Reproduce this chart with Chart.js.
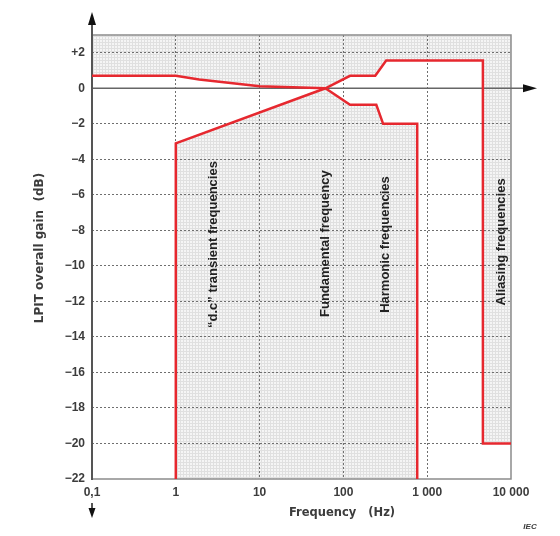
<!DOCTYPE html>
<html>
<head>
<meta charset="utf-8">
<script src="https://cdn.jsdelivr.net/npm/chart.js@4.4.0/dist/chart.umd.min.js"></script>
<style>
  html, body { margin: 0; padding: 0; background: #fff; }
  #wrap { width: 560px; height: 536px; }
</style>
</head>
<body>
<div id="wrap"><canvas id="gainChart" width="560" height="536"></canvas></div>
<script>
'use strict';

// axis ticks
const xTicks = [0.1, 1, 10, 100, 1000, 10000];
const xTickLabels = ['0,1', '1', '10', '100', '1 000', '10 000'];
const yTicks = [-22, -20, -18, -16, -14, -12, -10, -8, -6, -4, -2, 0, 2];
const yTickLabels = ['\u221222', '\u221220', '\u221218', '\u221216', '\u221214', '\u221212',
    '\u221210', '\u22128', '\u22126', '\u22124', '\u22122', '0', '+2'];

// curve starting at 0,1 Hz (upper left, lower right)
const curveAFreq = [0.1, 1, 1.9, 10, 61, 120, 247, 298, 760, 760];
const curveAGain = [0.7, 0.7, 0.5, 0.12, 0, -0.93, -0.93, -2, -2, -22];

// curve starting at 1 Hz (lower left, upper right)
const curveBFreq = [1, 1, 61, 120, 240, 324, 4620, 4620, 10000];
const curveBGain = [-22, -3.1, 0, 0.7, 0.7, 1.56, 1.56, -20, -20];

// hatched (forbidden) areas
const shadeTopFreq = [0.1, 10000, 10000, 4620, 4620, 324, 240, 120, 61, 10, 1.9, 1, 0.1];
const shadeTopGain = [3, 3, -20, -20, 1.56, 1.56, 0.7, 0.7, 0, 0.12, 0.5, 0.7, 0.7];
const shadeLowFreq = [1, 1, 61, 120, 247, 298, 760, 760];
const shadeLowGain = [-22, -3.1, 0, -0.93, -0.93, -2, -2, -22];

// rotated band labels
const bandLabels = ['\u201Cd.c\u201D transient frequencies', 'Fundamental frequency',
    'Harmonic frequencies', 'Aliasing frequencies'];
const bandLabelFreq = [2.79, 61, 315, 7600];
const bandLabelGain = [-8.8, -8.75, -8.8, -8.65];

const RED = '#e6282f';
const TEXT = '#3c3c3c';
const FONT = '"Liberation Sans", Arial, sans-serif';
const WIDE_FONT = '"DejaVu Sans", Verdana, sans-serif';

function toPoints(freqs, gains) {
    return freqs.map(function(f, i) { return { x: f, y: gains[i] }; });
}

function makeHatch() {
    const c = document.createElement('canvas');
    c.width = 3;
    c.height = 3;
    const g = c.getContext('2d');
    g.fillStyle = '#f5f5f5';
    g.fillRect(0, 0, 3, 3);
    g.fillStyle = '#e0e0e0';
    g.fillRect(0, 0, 3, 1);
    g.fillRect(0, 0, 1, 3);
    return c;
}

function fillArea(ctx, xs, ys, freqs, gains) {
    ctx.beginPath();
    freqs.forEach(function(f, i) {
        const px = xs.getPixelForValue(f);
        const py = ys.getPixelForValue(gains[i]);
        if (i === 0) ctx.moveTo(px, py); else ctx.lineTo(px, py);
    });
    ctx.closePath();
    ctx.fill();
}

const decorPlugin = {
    id: 'decor',
    beforeDraw: function(chart) {
        const ctx = chart.ctx;
        const area = chart.chartArea;
        const xs = chart.scales.x;
        const ys = chart.scales.y;
        ctx.save();
        ctx.beginPath();
        ctx.rect(area.left, area.top, area.right - area.left, area.bottom - area.top);
        ctx.clip();
        ctx.fillStyle = ctx.createPattern(makeHatch(), 'repeat');
        fillArea(ctx, xs, ys, shadeTopFreq, shadeTopGain);
        fillArea(ctx, xs, ys, shadeLowFreq, shadeLowGain);
        ctx.restore();
    },
    beforeDatasetsDraw: function(chart) {
        const ctx = chart.ctx;
        const area = chart.chartArea;
        const ys = chart.scales.y;
        const zeroY = ys.getPixelForValue(0);
        ctx.save();

        // frame
        ctx.strokeStyle = '#8c8c8c';
        ctx.lineWidth = 1.5;
        ctx.beginPath();
        ctx.moveTo(area.left, area.top);
        ctx.lineTo(area.right, area.top);
        ctx.lineTo(area.right, area.bottom);
        ctx.lineTo(area.left, area.bottom);
        ctx.stroke();

        // 0 dB axis with arrow
        ctx.strokeStyle = '#666';
        ctx.lineWidth = 1.5;
        ctx.beginPath();
        ctx.moveTo(area.left, zeroY);
        ctx.lineTo(area.right + 13, zeroY);
        ctx.stroke();
        ctx.fillStyle = '#111';
        ctx.beginPath();
        ctx.moveTo(area.right + 26, zeroY);
        ctx.lineTo(area.right + 12, zeroY - 4);
        ctx.lineTo(area.right + 12, zeroY + 4);
        ctx.closePath();
        ctx.fill();

        // gain axis with arrows
        ctx.strokeStyle = '#555';
        ctx.lineWidth = 2;
        ctx.beginPath();
        ctx.moveTo(area.left, 24);
        ctx.lineTo(area.left, area.bottom + 1);
        ctx.moveTo(area.left, 503);
        ctx.lineTo(area.left, 510);
        ctx.stroke();
        ctx.fillStyle = '#111';
        ctx.beginPath();
        ctx.moveTo(area.left, 12);
        ctx.lineTo(area.left - 4, 25);
        ctx.lineTo(area.left + 4, 25);
        ctx.closePath();
        ctx.fill();
        ctx.beginPath();
        ctx.moveTo(area.left, 518);
        ctx.lineTo(area.left - 3.5, 508);
        ctx.lineTo(area.left + 3.5, 508);
        ctx.closePath();
        ctx.fill();
        ctx.restore();
    },
    afterDraw: function(chart) {
        const ctx = chart.ctx;
        const xs = chart.scales.x;
        const ys = chart.scales.y;
        ctx.save();
        ctx.fillStyle = '#222';
        ctx.textAlign = 'center';
        ctx.textBaseline = 'middle';
        ctx.font = 'bold 13px ' + FONT;

        bandLabels.forEach(function(text, i) {
            ctx.save();
            ctx.translate(xs.getPixelForValue(bandLabelFreq[i]), ys.getPixelForValue(bandLabelGain[i]));
            ctx.rotate(-Math.PI / 2);
            ctx.fillText(text, 0, 0);
            ctx.restore();
        });

        ctx.fillStyle = TEXT;
        ctx.font = 'bold 11.5px ' + WIDE_FONT;
        ctx.fillText('Frequency   (Hz)', 342, 513);

        ctx.save();
        ctx.translate(40, 248);
        ctx.rotate(-Math.PI / 2);
        ctx.font = 'bold 12px ' + WIDE_FONT;
        ctx.fillText('LPIT overall gain  (dB)', 0, 0);
        ctx.restore();

        ctx.font = 'italic bold 8px ' + FONT;
        ctx.fillText('IEC', 530, 527);
        ctx.restore();
    }
};

const tickFont = { family: FONT, size: 12, weight: 'bold' };

new Chart(document.getElementById('gainChart'), {
    type: 'scatter',
    data: {
        datasets: [
            { data: toPoints(curveAFreq, curveAGain) },
            { data: toPoints(curveBFreq, curveBGain) }
        ]
    },
    options: {
        responsive: false,
        animation: false,
        devicePixelRatio: 1,
        showLine: true,
        layout: { padding: { left: 0, right: 49, top: 35, bottom: 0 } },
        elements: {
            line: { borderColor: RED, borderWidth: 2.5, tension: 0, fill: false },
            point: { radius: 0, hoverRadius: 0 }
        },
        plugins: {
            legend: { display: false },
            tooltip: { enabled: false }
        },
        scales: {
            x: {
                type: 'logarithmic',
                min: 0.1,
                max: 10000,
                afterBuildTicks: function(scale) {
                    scale.ticks = xTicks.map(function(v) { return { value: v }; });
                },
                afterFit: function(scale) { scale.height = 57; },
                ticks: {
                    autoSkip: false,
                    maxRotation: 0,
                    padding: 6,
                    color: TEXT,
                    font: tickFont,
                    callback: function(value, index) { return xTickLabels[index]; }
                },
                grid: {
                    drawTicks: false,
                    lineWidth: 1,
                    color: function(c) {
                        const v = c.tick && c.tick.value;
                        return (v === 0.1 || v === 10000) ? 'rgba(0,0,0,0)' : '#6f6f6f';
                    }
                },
                border: { display: false, dash: [2, 2] }
            },
            y: {
                type: 'linear',
                min: -22,
                max: 3,
                afterBuildTicks: function(scale) {
                    scale.ticks = yTicks.map(function(v) { return { value: v }; });
                },
                afterFit: function(scale) { scale.width = 92; },
                ticks: {
                    padding: 7,
                    color: TEXT,
                    font: tickFont,
                    callback: function(value, index) { return yTickLabels[index]; }
                },
                grid: {
                    drawTicks: false,
                    lineWidth: 1,
                    color: function(c) {
                        const v = c.tick && c.tick.value;
                        return (v === 0 || v === -22) ? 'rgba(0,0,0,0)' : '#6f6f6f';
                    }
                },
                border: { display: false, dash: [2, 2] }
            }
        }
    },
    plugins: [decorPlugin]
});
</script>
</body>
</html>
